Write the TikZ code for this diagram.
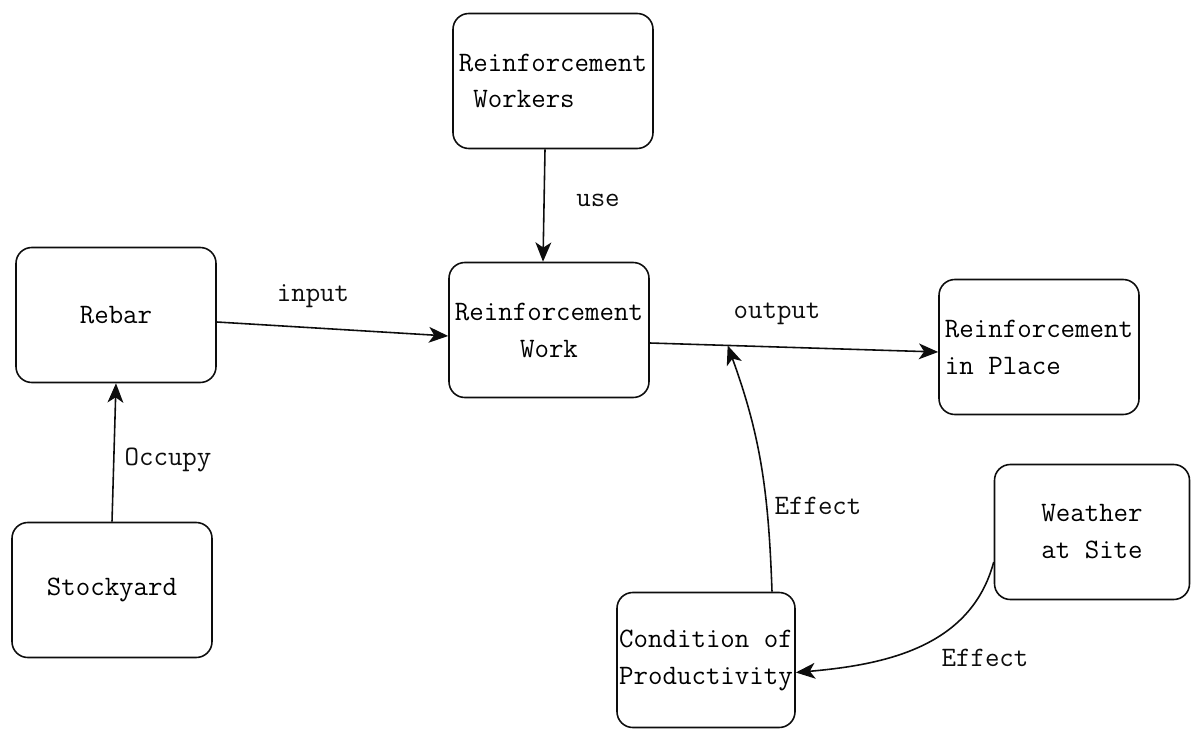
\documentclass[tikz,border=0pt]{standalone}
\usepackage{tikz}
\usetikzlibrary{arrows.meta,positioning,calc}
\definecolor{inkDark}{gray}{0.05}

\begin{document}
\begin{tikzpicture}[
      box/.style={draw=inkDark, line width=0.9pt, rounded corners=9pt,
                  minimum width=4cm, minimum height=2.7cm,
                  font=\ttfamily\fontsize{16}{21}\selectfont, inner sep=1pt},
      lbl/.style={font=\ttfamily\fontsize{16}{20}\selectfont, text=inkDark},
      arrow/.style={-{Stealth[length=11pt, width=9pt, inset=3pt]},
                    draw=inkDark, line width=0.9pt}]

    \useasboundingbox (0,0) rectangle (23.82,-14.64);

    \node[box, align=left] (workers) at (11.06,-1.62) {Reinforcement\\\ Workers};
    \node[box] (rebar)  at (2.32,-6.30) {Rebar};
    \node[box, align=center] (work) at (10.98,-6.60) {Reinforcement\\Work};
    \node[box, align=left] (place) at (20.78,-6.94) {Reinforcement\\in Place};
    \node[box] (stock)  at (2.24,-11.80) {Stockyard};
    \node[box, minimum width=3.56cm, align=left] (cond) at (14.12,-13.20)
      {Condition of\\Productivity};
    \node[box, minimum width=3.9cm, align=center] (weather) at (21.84,-10.64)
      {Weather\\at Site};

    \draw[arrow] ([xshift=-0.16cm]workers.south) -- ([xshift=-0.12cm]work.north);
    \draw[arrow] ([yshift=-0.14cm]rebar.east) -- ([yshift=-0.12cm]work.west);
    \draw[arrow] ([yshift=-0.26cm]work.east) -- ([yshift=-0.1cm]place.west);
    \draw[arrow] (stock.north) -- (rebar.south);

    \coordinate (join) at ($([yshift=-0.26cm]work.east)!0.27!([yshift=-0.1cm]place.west)$);
    \draw[arrow] ([xshift=1.32cm]cond.north) to[out=92, in=-70] (join);
    \draw[arrow] ([yshift=-0.6cm]weather.west) to[out=-105, in=5]
      ([yshift=-0.25cm]cond.east);

    \node[lbl] (useL)    at (11.96,-4.00) {use};
    \node[lbl] (inputL)  at (6.26,-5.92)  {input};
    \node[lbl] (outputL) at (15.54,-6.28) {output};
    \node[lbl] (occL)    at (3.36,-9.20)  {Occupy};
    \node[lbl] (effA)    at (16.36,-10.12) {Effect};
    \node[lbl] (effB)    at (19.70,-13.16) {Effect};
  \end{tikzpicture}
\end{document}
